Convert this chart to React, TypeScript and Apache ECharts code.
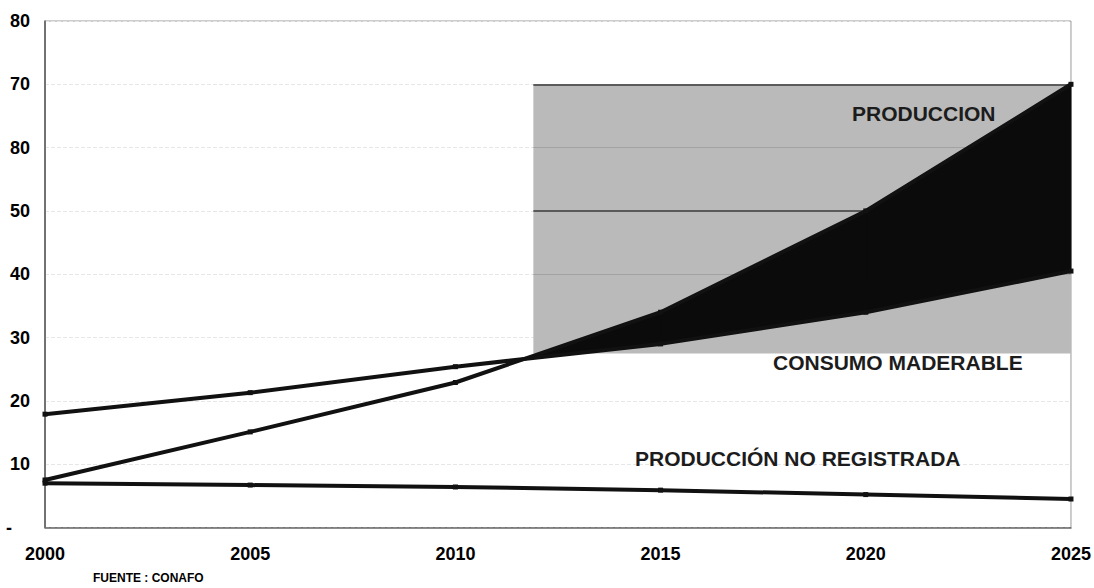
import React, { useEffect, useRef } from "react";
import * as echarts from "echarts";

// ---- data ----
const years = [2000, 2005, 2010, 2015, 2020, 2025];
const produccion = [7.5, 15.1, 22.9, 34.0, 50.0, 70.0];
const consumoMaderable = [17.9, 21.3, 25.4, 29.0, 34.0, 40.5];
const produccionNoRegistrada = [7.0, 6.7, 6.4, 5.9, 5.2, 4.5];
const yTickLabels = ["-", "10", "20", "30", "40", "50", "80", "70", "80"];
const xTickLabels = ["2000", "2005", "2010", "2015", "2020", "2025"];
// shaded projection area (x from year, y range)
const shadeX = [2011.9, 2025];
const shadeY = [27.5, 70];
const shadeGridDark = [70, 50];
const shadeGridLight = [60, 40];

const SANS = "'Liberation Sans', Arial, sans-serif";

export default function App() {
  const ref = useRef<HTMLDivElement>(null);
  useEffect(() => {
    if (!ref.current) return;
    const chart = echarts.init(ref.current, undefined, { renderer: "svg" });
    const segIdx = years.slice(0, -1).map((_, i) => i);
    const lineStyleBase = { color: "#111", width: 4 };
    const option: any = {
      animation: false,
      backgroundColor: "#fff",
      grid: {
        left: 45,
        right: 18,
        top: 21,
        bottom: 60.5,
        show: true,
        borderColor: "#9a9a9a",
        borderWidth: 1,
        backgroundColor: "transparent",
      },
      xAxis: {
        type: "value",
        min: 2000,
        max: 2025,
        interval: 5,
        axisLine: { show: true, lineStyle: { color: "#666", width: 1.5 } },
        axisTick: { show: false },
        splitLine: { show: false },
        axisLabel: {
          color: "#000",
          fontFamily: SANS,
          fontWeight: "bold",
          fontSize: 18,
          margin: 17,
          formatter: (v: number) => xTickLabels[years.indexOf(Math.round(v))] ?? "",
        },
      },
      yAxis: {
        type: "value",
        min: 0,
        max: 80,
        interval: 10,
        axisLine: { show: true, lineStyle: { color: "#555", width: 1.5 } },
        axisTick: { show: false },
        splitLine: { show: true, lineStyle: { color: "#e6e6e6", type: "dashed", width: 1 } },
        axisLabel: {
          color: "#000",
          fontFamily: SANS,
          fontWeight: "bold",
          fontSize: 18,
          margin: 15,
          formatter: (v: number) => {
            const t = yTickLabels[Math.round(v / 10)] ?? "";
            return v === 0 ? `{dash|${t}}` : t;
          },
          rich: {
            dash: {
              fontFamily: SANS,
              fontWeight: "bold",
              fontSize: 18,
              color: "#000",
              padding: [0, 18, 0, 0],
            },
          },
        },
      },
      series: [
        {
          type: "line",
          name: "shade",
          data: [],
          z: 1,
          silent: true,
          markArea: {
            silent: true,
            z: 1,
            itemStyle: { color: "#bababa" },
            data: [[{ coord: [shadeX[0], shadeY[1]] }, { coord: [shadeX[1], shadeY[0]] }]],
          },
          markLine: {
            silent: true,
            z: 2,
            symbol: "none",
            label: { show: false },
            data: [
              ...shadeGridDark.map((y) => [
                { coord: [shadeX[0], y], lineStyle: { color: "#3a3a3a", width: 1.5, type: "solid" } },
                { coord: [shadeX[1], y] },
              ]),
              ...shadeGridLight.map((y) => [
                { coord: [shadeX[0], y], lineStyle: { color: "#a2a2a2", width: 1, type: "solid" } },
                { coord: [shadeX[1], y] },
              ]),
            ],
          },
        },
        {
          type: "custom",
          name: "band",
          z: 20,
          silent: true,
          data: segIdx.map((i) => [years[i], i]),
          encode: { x: 0, y: 1 },
          renderItem: (params: any, api: any) => {
            const i = api.value(1) as number;
            const d0 = produccion[i] - consumoMaderable[i];
            const d1 = produccion[i + 1] - consumoMaderable[i + 1];
            if (d0 <= 0 && d1 <= 0) return { type: "group", children: [] };
            const P0 = api.coord([years[i], produccion[i]]);
            const P1 = api.coord([years[i + 1], produccion[i + 1]]);
            const C0 = api.coord([years[i], consumoMaderable[i]]);
            const C1 = api.coord([years[i + 1], consumoMaderable[i + 1]]);
            let pts: number[][];
            if (d0 >= 0 && d1 >= 0) {
              pts = [P0, P1, C1, C0];
            } else {
              const t = d0 / (d0 - d1);
              const X = [P0[0] + (P1[0] - P0[0]) * t, P0[1] + (P1[1] - P0[1]) * t];
              pts = d0 < 0 ? [X, P1, C1] : [P0, X, C0];
            }
            return {
              type: "polygon",
              shape: { points: pts },
              style: { fill: "#0b0b0b", stroke: "#0b0b0b", lineWidth: 1 },
            };
          },
        },
        ...[produccion, consumoMaderable, produccionNoRegistrada].map((arr, k) => ({
          type: "line",
          name: ["PRODUCCION", "CONSUMO MADERABLE", "PRODUCCIÓN NO REGISTRADA"][k],
          z: 30,
          data: years.map((y, i) => [y, arr[i]]),
          symbol: "rect",
          symbolSize: 5,
          showSymbol: true,
          itemStyle: { color: "#111" },
          lineStyle: lineStyleBase,
        })),
      ],
      graphic: [
        {
          type: "text",
          z: 100,
          x: 852,
          y: 113,
          style: { text: "PRODUCCION", font: `bold 21px ${SANS}`, fill: "#1c1c1c", verticalAlign: "middle" },
        },
        {
          type: "text",
          z: 100,
          x: 773,
          y: 362,
          style: { text: "CONSUMO MADERABLE", font: `bold 21px ${SANS}`, fill: "#1c1c1c", verticalAlign: "middle" },
        },
        {
          type: "text",
          z: 100,
          x: 635,
          y: 458,
          style: { text: "PRODUCCIÓN NO REGISTRADA", font: `bold 21px ${SANS}`, fill: "#1c1c1c", verticalAlign: "middle" },
        },
        {
          type: "text",
          z: 100,
          x: 93,
          y: 578,
          style: { text: "FUENTE : CONAFO", font: `bold 12px ${SANS}`, fill: "#000", verticalAlign: "middle" },
        },
      ],
    };
    chart.setOption(option);
    return () => chart.dispose();
  }, []);
  return (
    <div
      ref={ref}
      style={{ position: "absolute", left: 0, top: 0, width: 1094, height: 588, background: "#fff" }}
    />
  );
}
